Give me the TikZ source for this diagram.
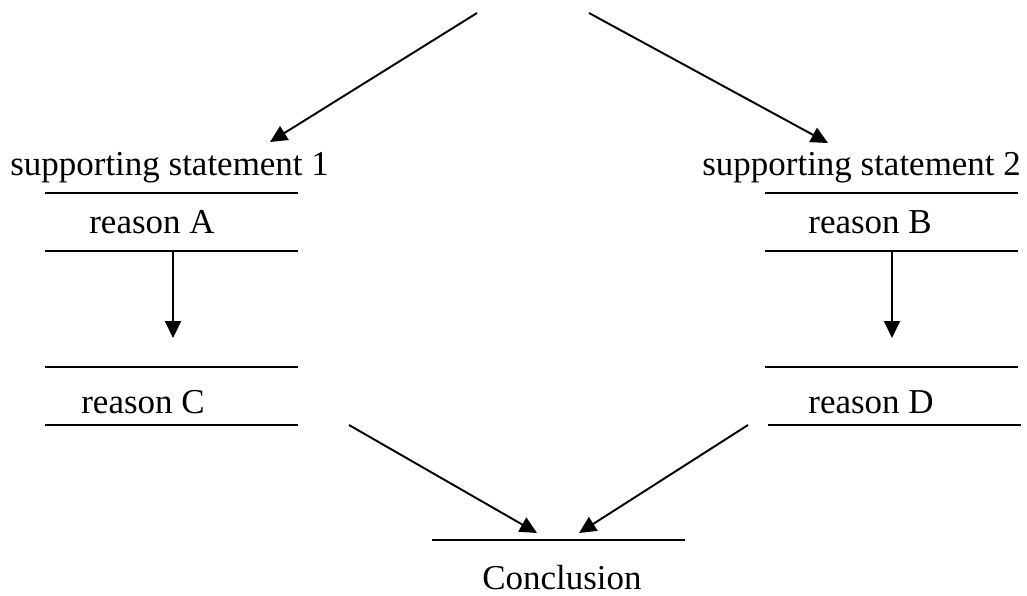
\documentclass[tikz,border=0pt]{standalone}
\usepackage{fontspec}
\setmainfont{Liberation Serif}
\usetikzlibrary{arrows.meta,positioning}

\begin{document}
\begin{tikzpicture}[
    x=0.02cm, y=-0.02cm,
    txt/.style={inner sep=0pt, anchor=base west, font=\fontsize{19.9}{24}\selectfont},
    rule/.style={line width=1.1pt},
    arr/.style={-{Triangle[length=0.34cm, width=0.32cm]}, line width=1.1pt}
  ]
    \useasboundingbox (0,0) rectangle (1027,595);

    % left column
    \node[txt] (stmtone) at (10,175)  {supporting statement 1};
    \node[txt] (reasona) at (89,233)  {reason A};
    \node[txt] (reasonc) at (81,413)  {reason C};
    \draw[rule] (45,193) -- (298,193);
    \draw[rule] (45,251) -- (298,251);
    \draw[rule] (45,367) -- (298,367);
    \draw[rule] (45,425) -- (298,425);

    % right column
    \node[txt] (stmttwo) at (702,175) {supporting statement 2};
    \node[txt] (reasonb) at (808,233) {reason B};
    \node[txt] (reasond) at (808,413) {reason D};
    \draw[rule] (765,193) -- (1018,193);
    \draw[rule] (765,251) -- (1018,251);
    \draw[rule] (765,367) -- (1018,367);
    \draw[rule] (768,425) -- (1021,425);

    % conclusion
    \node[txt] (concl) at (482,589) {Conclusion};
    \draw[rule] (432,540) -- (685,540);

    % arrow ends
    \coordinate (topl) at (477,13);
    \coordinate (topr) at (589,13);
    \coordinate (inone) at (270,142);
    \coordinate (intwo) at (828,143);
    \coordinate (aout) at (173,251);
    \coordinate (cin) at (173,338);
    \coordinate (bout) at (892,251);
    \coordinate (din) at (892,338);
    \coordinate (cout) at (349,425);
    \coordinate (dout) at (748,425);
    \coordinate (concla) at (537,533);
    \coordinate (conclb) at (579,533);

    \draw[arr] (topl) -- (inone);
    \draw[arr] (topr) -- (intwo);
    \draw[arr] (aout) -- (cin);
    \draw[arr] (bout) -- (din);
    \draw[arr] (cout) -- (concla);
    \draw[arr] (dout) -- (conclb);
  \end{tikzpicture}
\end{document}
